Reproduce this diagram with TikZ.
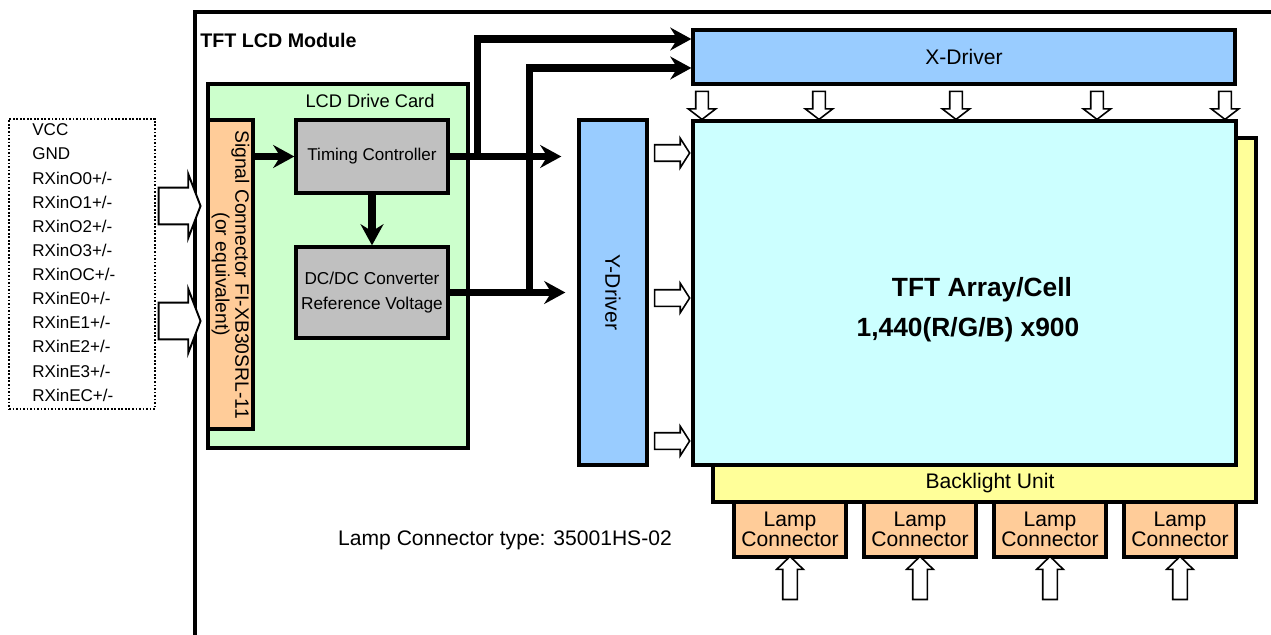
\documentclass[tikz,border=0pt]{standalone}
\usepackage{fontspec}
\setmainfont{Liberation Sans}
\usetikzlibrary{arrows.meta,shapes.arrows,positioning}

\definecolor{cardgreen}{HTML}{CCFFCC}
\definecolor{connorange}{HTML}{FFCC99}
\definecolor{chipgray}{HTML}{C0C0C0}
\definecolor{drvblue}{HTML}{99CCFF}
\definecolor{cellcyan}{HTML}{CCFFFF}
\definecolor{blyellow}{HTML}{FFFF99}

\begin{document}
\begin{tikzpicture}[x=0.02cm, y=-0.02cm,
    box/.style={draw, line width=1.9pt, align=center, inner sep=0pt},
    small/.style={font=\fontsize{9.7}{11.6}\selectfont},
    mid/.style={font=\fontsize{12}{11.3}\selectfont},
    pin/.style={small, anchor=west, inner xsep=0pt},
    bus/.style={line width=4pt, -{Stealth[length=12pt,width=13pt,inset=4pt]}},
    hollow/.style={draw, fill=white, line width=0.9pt, single arrow,
                   inner xsep=0pt, single arrow head indent=0pt},
    downarr/.style={hollow, rotate=-90, minimum height=0.56cm, inner ysep=0.11cm,
                    single arrow head extend=0.15cm, single arrow tip angle=105},
    rightarr/.style={hollow, minimum height=0.70cm, inner ysep=0.15cm,
                     single arrow head extend=0.13cm, single arrow tip angle=115},
    uparr/.style={hollow, rotate=90, minimum height=0.86cm, inner ysep=0.13cm,
                  single arrow head extend=0.12cm, single arrow tip angle=92},
    inarr/.style={hollow, line width=1.1pt, minimum height=0.84cm, inner ysep=0.35cm,
                  single arrow head extend=0.27cm, single arrow tip angle=138}
]
\useasboundingbox (0,0) rectangle (1271,635);

% --- Module frame ---
\draw[line width=1.9pt] (195,635) -- (195,12) -- (1271,12);
\node[anchor=west, inner sep=0pt, font=\fontsize{11.2}{12}\selectfont\bfseries]
    (modtitle) at (200,40) {TFT LCD Module};

% --- Input signals ---
\node[draw, densely dotted, line width=1pt, minimum width=2.92cm, minimum height=5.8cm]
    (pins) at (82,264) {};
\foreach \sig [count=\i from 0] in {VCC,GND,RXinO0+/-,RXinO1+/-,RXinO2+/-,RXinO3+/-,
    RXinOC+/-,RXinE0+/-,RXinE1+/-,RXinE2+/-,RXinE3+/-,RXinEC+/-}
    \node[pin] (pin\i) at (32,130+24.1*\i) {\sig};
\node[inarr] (inodd) at (176,206) {};
\node[inarr] (ineven) at (176,321) {};

% --- LCD drive card ---
\node[box, fill=cardgreen, minimum width=5.2cm, minimum height=7.28cm] (card) at (338,266) {};
\node[small, font=\fontsize{10.4}{12}\selectfont] (cardlbl) at (370,101) {LCD Drive Card};
\node[box, fill=connorange, rotate=-90, minimum width=6.18cm, minimum height=0.9cm,
      font=\fontsize{11}{11.3}\selectfont] (sigconn) at (230.5,274.5)
    {Signal Connector FI-XB30SRL-11\\(or equivalent)};
\node[box, small, fill=chipgray, minimum width=3.04cm, minimum height=1.46cm]
    (tc) at (372,156.5) {Timing Controller};
\node[box, fill=chipgray, minimum width=3.04cm, minimum height=1.82cm,
      font=\fontsize{9.8}{14.7}\selectfont] (dcdc) at (372,292.5)
    {DC/DC Converter\\Reference Voltage};

% --- Drivers and panel ---
\node[box, mid, fill=drvblue, minimum width=10.84cm, minimum height=1.08cm]
    (xdrv) at (964,57) {X-Driver};
\node[box, mid, fill=drvblue, rotate=-90, minimum width=6.9cm, minimum height=1.36cm]
    (ydrv) at (613,292.5) {Y-Driver};
\node[box, fill=blyellow, minimum width=10.86cm, minimum height=7.28cm]
    (backlight) at (984.5,320) {};
\node[mid] (bllbl) at (990,483) {Backlight Unit};
\node[box, fill=cellcyan, minimum width=10.86cm, minimum height=6.88cm]
    (tft) at (964.5,293) {};
\node[align=center, font=\fontsize{15}{22.7}\selectfont\bfseries]
    (tftlbl) at (968,310) {\hspace*{0.56cm}TFT Array/Cell\\1,440(R/G/B) x900};

% --- Hollow arrows into the panel ---
\foreach \xx [count=\i] in {702,819,956,1097,1225}
    \node[downarr] (xout\i) at (\xx,103) {};
\foreach \yy [count=\i] in {153,298,441}
    \node[rightarr] (yout\i) at (669.5,\yy) {};

% --- Lamp connectors ---
\foreach \xx [count=\i] in {790,920,1050,1180} {
    \node[box, mid, fill=connorange, minimum width=2.24cm, minimum height=1.1cm]
        (lamp\i) at (\xx,529.5) {Lamp\\Connector};
    \node[uparr] (lampin\i) at (\xx,581.5) {};
}
\node[mid] (lamptype) at (505,540) {Lamp Connector type: 35001HS-02};

% --- Bus arrows ---
\draw[bus] (sigconn.north |- tc.west) -- (tc.west);
\draw[bus] (tc.south) -- (dcdc.north);
\draw[bus, shorten >=0.32cm] (tc.east) -- (ydrv.south |- tc.east);
\draw[bus] ([xshift=0.56cm]tc.east) |- ([yshift=0.36cm]xdrv.west);
\draw[bus, shorten >=0.24cm] (dcdc.east) -- (ydrv.south |- dcdc.east);
\draw[bus] ([xshift=1.6cm]dcdc.east) |- ([yshift=-0.22cm]xdrv.west);

\end{tikzpicture}
\end{document}
